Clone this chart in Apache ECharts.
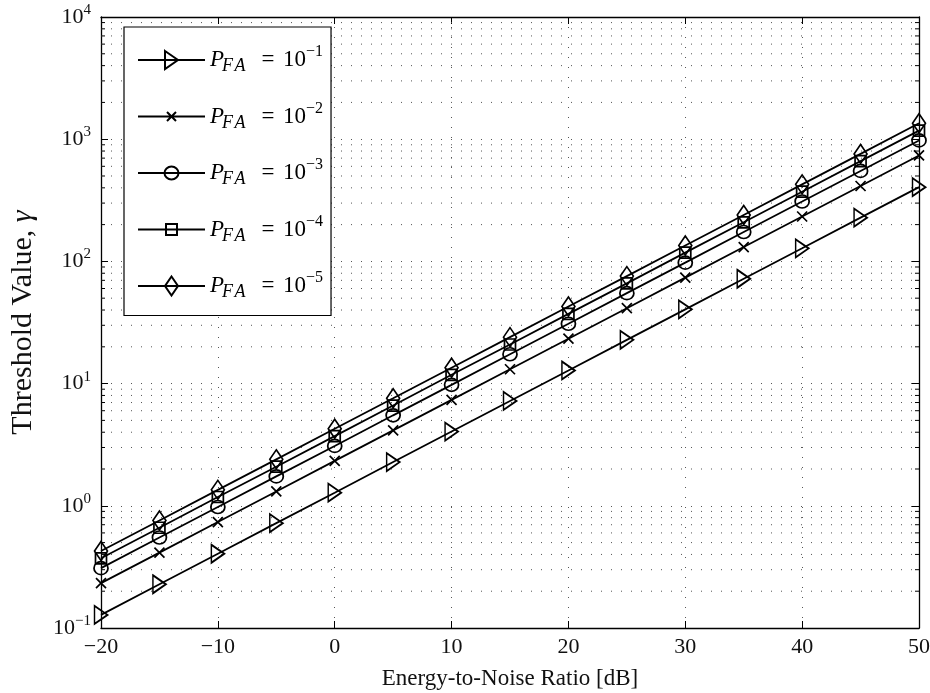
<!DOCTYPE html>
<html>
<head>
<meta charset="utf-8">
<script src="https://cdn.jsdelivr.net/npm/echarts@6/dist/echarts.min.js"></script>
<style>
  html, body { margin: 0; padding: 0; background: #ffffff; }
  #chart { width: 930px; height: 693px; }
</style>
</head>
<body>
<div id="chart"></div>
<script>
// Energy-to-noise ratio samples [dB]
const enrDb = [-20, -15, -10, -5, 0, 5, 10, 15, 20, 25, 30, 35, 40, 45, 50];

// Detection threshold for each false-alarm probability
const gammaPfa1 = [0.128, 0.228, 0.405, 0.721, 1.28, 2.28, 4.05, 7.21, 12.8, 22.8, 40.5, 72.1, 128, 228, 405];
const gammaPfa2 = [0.233, 0.414, 0.736, 1.31, 2.33, 4.14, 7.36, 13.1, 23.3, 41.4, 73.6, 131, 233, 414, 736];
const gammaPfa3 = [0.309, 0.550, 0.977, 1.74, 3.09, 5.50, 9.77, 17.4, 30.9, 55.0, 97.7, 174, 309, 550, 977];
const gammaPfa4 = [0.372, 0.661, 1.18, 2.09, 3.72, 6.61, 11.8, 20.9, 37.2, 66.1, 118, 209, 372, 661, 1176];
const gammaPfa5 = [0.427, 0.758, 1.35, 2.40, 4.27, 7.58, 13.5, 24.0, 42.7, 75.8, 135, 240, 427, 758, 1349];

// Legend exponents (P_FA = 10^-k)
const pfaExponents = [1, 2, 3, 4, 5];

// Axis ranges
const xRange = [-20, 50];
const yRange = [0.1, 10000];

const SERIF = '"Liberation Serif", "DejaVu Serif", serif';
const MINUS = '\u2212';

// Plot markers (open shapes)
const markers = [
  { symbol: 'path://M0,0L13,9L0,18Z', size: [13, 18] },
  { symbol: 'path://M0,0L10,10M10,0L0,10', size: [10, 10] },
  { symbol: 'circle', size: [14, 13] },
  { symbol: 'rect', size: [11, 11] },
  { symbol: 'diamond', size: [13, 19] }
];

// Legend icons: line plus marker in a 67x20 box (the two leading moves fix the box)
const BOX = 'M0,0M67,20M0,10L67,10';
const legendIcons = [
  'path://' + BOX + 'M27,1L40,10L27,19Z',
  'path://' + BOX + 'M29,5.5L38,14.5M38,5.5L29,14.5',
  'path://' + BOX + 'M40.5,10A7,6.5 0 1 1 26.5,10A7,6.5 0 1 1 40.5,10Z',
  'path://' + BOX + 'M28,4.5L39,4.5L39,15.5L28,15.5Z',
  'path://' + BOX + 'M33.5,0.5L40,10L33.5,19.5L27,10Z'
];

const seriesValues = [gammaPfa1, gammaPfa2, gammaPfa3, gammaPfa4, gammaPfa5];
const seriesNames = pfaExponents.map(k => 'pfa' + k);

// minor log grid positions (2..9 within each decade)
const minorY = [];
for (let d = -1; d < 4; d++) {
  for (let m = 2; m <= 9; m++) minorY.push(+(m * Math.pow(10, d)).toPrecision(3));
}

const lineSeries = seriesValues.map((vals, i) => ({
  name: seriesNames[i],
  type: 'line',
  data: enrDb.map((x, j) => [x, vals[j]]),
  symbol: markers[i].symbol,
  symbolSize: markers[i].size,
  showAllSymbol: true,
  clip: false,
  z: 10 + i,
  lineStyle: { color: '#000', width: 1.8 },
  itemStyle: { color: 'rgba(255,255,255,0)', borderColor: '#000', borderWidth: 1.7 },
  emphasis: { disabled: true },
  animation: false
}));

// dotted minor grid + small inward ticks on both vertical edges
const minorGridSeries = {
  type: 'custom',
  silent: true,
  z: 1,
  animation: false,
  data: minorY.map(v => [xRange[0], v]),
  renderItem: function (params, api) {
    const cs = params.coordSys;
    const y = api.coord([xRange[0], api.value(1)])[1];
    const x0 = cs.x, x1 = cs.x + cs.width;
    return {
      type: 'group',
      children: [
        { type: 'line', shape: { x1: x0, y1: y, x2: x1, y2: y },
          style: { stroke: '#555', lineWidth: 1, lineDash: [1, 9] } },
        { type: 'line', shape: { x1: x0, y1: y, x2: x0 + 4, y2: y },
          style: { stroke: '#000', lineWidth: 1 } },
        { type: 'line', shape: { x1: x1, y1: y, x2: x1 - 4, y2: y },
          style: { stroke: '#000', lineWidth: 1 } }
      ]
    };
  }
};

function powLabel(v) {
  const e = Math.round(Math.log10(v));
  const es = e < 0 ? MINUS + Math.abs(e) : String(e);
  return '{b|10}{s|' + es + '}';
}

const option = {
  backgroundColor: '#ffffff',
  animation: false,
  grid: { left: 101, right: 11, top: 17, bottom: 65, containLabel: false, outerBoundsMode: 'none' },
  legend: {
    data: seriesNames.map((n, i) => ({ name: n, icon: legendIcons[i] })),
    orient: 'vertical',
    left: 124,
    top: 27,
    padding: [17, 8, 14, 13],
    itemWidth: 67,
    itemHeight: 20,
    itemGap: 25,
    backgroundColor: '#ffffff',
    borderColor: '#000',
    borderWidth: 1.2,
    selectedMode: false,
    itemStyle: { color: 'rgba(255,255,255,0)', borderColor: '#000', borderWidth: 2 },
    formatter: function (name) {
      const k = name.replace('pfa', '');
      return '{p|P}{sub|F\u200aA}{eq|=}{ten|10}{sup|' + MINUS + k + '}';
    },
    textStyle: {
      color: '#000',
      fontFamily: SERIF,
      rich: {
        p: { fontFamily: SERIF, fontStyle: 'italic', fontSize: 23, color: '#000', width: 12 },
        sub: { fontFamily: SERIF, fontStyle: 'italic', fontSize: 18, color: '#000', width: 34, padding: [13, 0, 0, 0] },
        eq: { fontFamily: SERIF, fontSize: 23, color: '#000', width: 24, align: 'center' },
        ten: { fontFamily: SERIF, fontSize: 23, color: '#000', padding: [0, 0, 0, 3] },
        sup: { fontFamily: SERIF, fontSize: 16, color: '#000', padding: [0, 0, 16, 0] }
      }
    }
  },
  xAxis: [
    {
      type: 'value',
      min: xRange[0], max: xRange[1], interval: 10,
      name: 'Energy-to-Noise Ratio [dB]',
      nameLocation: 'middle',
      nameGap: 39,
      nameTextStyle: { fontFamily: SERIF, fontSize: 23, color: '#111' },
      axisLine: { show: true, onZero: false, lineStyle: { color: '#000', width: 1.3 } },
      axisTick: { show: true, inside: true, length: 7, lineStyle: { color: '#000', width: 1 } },
      axisLabel: {
        margin: 8,
        fontFamily: SERIF, fontSize: 22, color: '#111',
        formatter: v => (v < 0 ? MINUS + Math.abs(v) : String(v))
      },
      splitLine: { show: true, lineStyle: { color: '#555', width: 1, type: [1, 9] } }
    },
    {
      type: 'value', position: 'top',
      min: xRange[0], max: xRange[1], interval: 10,
      axisLine: { show: true, onZero: false, lineStyle: { color: '#000', width: 1.3 } },
      axisTick: { show: true, inside: true, length: 7, lineStyle: { color: '#000', width: 1 } },
      axisLabel: { show: false },
      splitLine: { show: false }
    }
  ],
  yAxis: [
    {
      type: 'log', logBase: 10,
      min: yRange[0], max: yRange[1],
      name: 'Threshold Value, {g|\u03b3}',
      nameLocation: 'middle',
      nameGap: 63,
      nameRotate: 90,
      nameTextStyle: {
        fontFamily: SERIF, fontSize: 30, color: '#111',
        rich: { g: { fontFamily: SERIF, fontStyle: 'italic', fontSize: 30, color: '#111' } }
      },
      axisLine: { show: true, onZero: false, lineStyle: { color: '#000', width: 1.3 } },
      axisTick: { show: true, inside: true, length: 7, lineStyle: { color: '#000', width: 1 } },
      axisLabel: {
        margin: 10,
        formatter: powLabel,
        rich: {
          b: { fontFamily: SERIF, fontSize: 22, color: '#111' },
          s: { fontFamily: SERIF, fontSize: 15, color: '#111', padding: [0, 0, 14, 0] }
        }
      },
      splitLine: { show: true, lineStyle: { color: '#555', width: 1, type: [1, 9] } },
      minorTick: { show: false }
    },
    {
      type: 'log', logBase: 10, position: 'right',
      min: yRange[0], max: yRange[1],
      axisLine: { show: true, onZero: false, lineStyle: { color: '#000', width: 1.3 } },
      axisTick: { show: true, inside: true, length: 7, lineStyle: { color: '#000', width: 1 } },
      axisLabel: { show: false },
      splitLine: { show: false }
    }
  ],
  series: [minorGridSeries].concat(lineSeries)
};

const chart = echarts.init(document.getElementById('chart'), null, { renderer: 'canvas' });
chart.setOption(option);
</script>
</body>
</html>
